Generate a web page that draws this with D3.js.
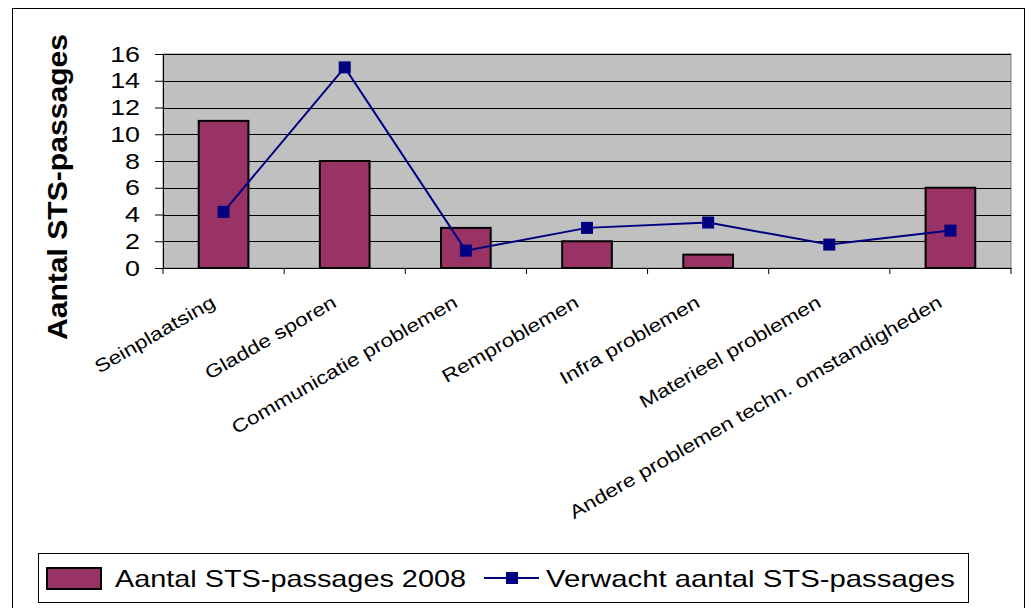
<!DOCTYPE html>
<html>
<head>
<meta charset="utf-8">
<script src="https://cdn.jsdelivr.net/npm/d3@7"></script>
<style>
  body { margin: 0; background: #fff; }
  text { font-family: Arial, "Liberation Sans", sans-serif; }
</style>
</head>
<body>
<svg id="chart" width="1030" height="608"></svg>
<script>
// data
const categories = ["Seinplaatsing", "Gladde sporen", "Communicatie problemen", "Remproblemen",
  "Infra problemen", "Materieel problemen", "Andere problemen techn. omstandigheden"];
const actual2008 = [11, 8, 3, 2, 1, 0, 6];
const expected = [4.2, 15, 1.3, 3, 3.4, 1.75, 2.8];
const yTicks = [0, 2, 4, 6, 8, 10, 12, 14, 16];

const svg = d3.select("#chart");

// the original text is a bit wider than Liberation Sans, stretch it horizontally
function stretch(sel, k) {
  sel.each(function () {
    const len = this.getComputedTextLength();
    d3.select(this).attr("textLength", len * k).attr("lengthAdjust", "spacingAndGlyphs");
  });
}

// outer frame
svg.append("rect")
  .attr("x", 12.5).attr("y", 8.5)
  .attr("width", 1012).attr("height", 620)
  .attr("fill", "#fff").attr("stroke", "#000").attr("stroke-width", 1);

const plot = { left: 163, top: 54, right: 1011, bottom: 268 };

const x = d3.scaleBand()
  .domain(categories)
  .range([plot.left, plot.right])
  .paddingInner(0).paddingOuter(0);

const y = d3.scaleLinear().domain([0, 16]).range([plot.bottom, plot.top]);

// plot background
svg.append("rect")
  .attr("x", plot.left).attr("y", plot.top)
  .attr("width", plot.right - plot.left).attr("height", plot.bottom - plot.top)
  .attr("fill", "#c0c0c0").attr("stroke", "#808080").attr("stroke-width", 1);

// gridlines
svg.append("g")
  .selectAll("line")
  .data(yTicks.filter(d => d > 0))
  .join("line")
  .attr("x1", plot.left).attr("x2", plot.right)
  .attr("y1", d => Math.round(y(d)) + 0.5).attr("y2", d => Math.round(y(d)) + 0.5)
  .attr("stroke", "#000").attr("stroke-width", 1);

// bars
const barW = x.bandwidth() * 0.41;
svg.append("g")
  .selectAll("rect")
  .data(actual2008.map((v, i) => ({ cat: categories[i], v })))
  .join("rect")
  .filter(d => d.v > 0)
  .attr("x", d => x(d.cat) + (x.bandwidth() - barW) / 2)
  .attr("y", d => y(d.v))
  .attr("width", barW)
  .attr("height", d => y(0) - y(d.v))
  .attr("fill", "#993366")
  .attr("stroke", "#000").attr("stroke-width", 2);

// y axis
const yAxis = svg.append("g")
  .attr("transform", `translate(${plot.left},0)`)
  .call(d3.axisLeft(y).tickValues(yTicks).tickSize(8).tickPadding(15));
yAxis.select(".domain").attr("stroke", "#000");
yAxis.selectAll(".tick line").attr("stroke", "#000");
yAxis.selectAll(".tick text")
  .attr("font-size", 22).attr("fill", "#000")
  .attr("font-family", "Arial, 'Liberation Sans', sans-serif")
  .call(stretch, 1.22);

// x axis
const xAxis = svg.append("g")
  .attr("transform", `translate(0,${plot.bottom})`)
  .call(d3.axisBottom(x).tickSize(0).tickFormat(""));
xAxis.select(".domain").attr("stroke", "#000");
// category boundary ticks
svg.append("g")
  .selectAll("line")
  .data(d3.range(categories.length + 1))
  .join("line")
  .attr("x1", i => plot.left + i * x.step()).attr("x2", i => plot.left + i * x.step())
  .attr("y1", plot.bottom).attr("y2", plot.bottom + 6)
  .attr("stroke", "#000");

// category labels
svg.append("g")
  .selectAll("text")
  .data(categories)
  .join("text")
  .attr("transform", d => `translate(${x(d) + x.bandwidth() / 2 - 7},${plot.bottom + 38}) rotate(-30)`)
  .attr("text-anchor", "end")
  .attr("font-size", 18.5)
  .attr("fill", "#000")
  .text(d => d)
  .call(stretch, 1.22);

// line series
const pts = expected.map((v, i) => ({ cat: categories[i], v }));
svg.append("path")
  .datum(pts)
  .attr("fill", "none")
  .attr("stroke", "#000080")
  .attr("stroke-width", 2)
  .attr("d", d3.line().x(d => x(d.cat) + x.bandwidth() / 2).y(d => y(d.v)));

svg.append("g")
  .selectAll("rect")
  .data(pts)
  .join("rect")
  .attr("x", d => x(d.cat) + x.bandwidth() / 2 - 6)
  .attr("y", d => y(d.v) - 6)
  .attr("width", 12).attr("height", 12)
  .attr("fill", "#000080");

// y axis title
svg.append("text")
  .attr("transform", "translate(67,187) rotate(-90)")
  .attr("text-anchor", "middle")
  .attr("font-size", 28)
  .attr("font-weight", "bold")
  .attr("fill", "#000")
  .attr("textLength", 306).attr("lengthAdjust", "spacingAndGlyphs")
  .text("Aantal STS-passages");

// legend
const lg = svg.append("g");
lg.append("rect")
  .attr("x", 38.5).attr("y", 553.5).attr("width", 930).attr("height", 49)
  .attr("fill", "#fff").attr("stroke", "#000");
lg.append("rect")
  .attr("x", 47).attr("y", 568).attr("width", 54).attr("height", 21)
  .attr("fill", "#993366").attr("stroke", "#000").attr("stroke-width", 2);
lg.append("text")
  .attr("x", 115).attr("y", 579).attr("dy", "0.35em")
  .attr("font-size", 24).attr("fill", "#000")
  .attr("textLength", 351).attr("lengthAdjust", "spacingAndGlyphs")
  .text("Aantal STS-passages 2008");
lg.append("line")
  .attr("x1", 484).attr("x2", 539).attr("y1", 578).attr("y2", 578)
  .attr("stroke", "#000080").attr("stroke-width", 2);
lg.append("rect")
  .attr("x", 506).attr("y", 572).attr("width", 12).attr("height", 12)
  .attr("fill", "#000080");
lg.append("text")
  .attr("x", 546).attr("y", 579).attr("dy", "0.35em")
  .attr("font-size", 24).attr("fill", "#000")
  .attr("textLength", 409).attr("lengthAdjust", "spacingAndGlyphs")
  .text("Verwacht aantal STS-passages");
</script>
</body>
</html>
